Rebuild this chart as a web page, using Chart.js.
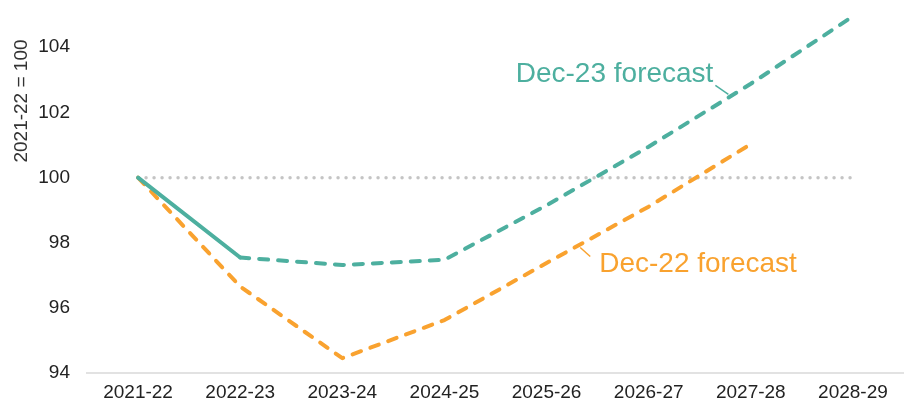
<!DOCTYPE html>
<html>
<head>
<meta charset="utf-8">
<script src="https://cdn.jsdelivr.net/npm/chart.js@4/dist/chart.umd.min.js"></script>
<style>
  html, body { margin: 0; padding: 0; background: #fff; overflow: hidden; }
  #wrap { width: 904px; height: 412px; position: relative; }
</style>
</head>
<body>
<div id="wrap"><canvas id="chart"></canvas></div>
<script>
// Data
const years = ['2021-22', '2022-23', '2023-24', '2024-25', '2025-26', '2026-27', '2027-28', '2028-29'];
const dec23 = [100, 97.55, 97.32, 97.48, 99.15, 100.95, 102.88, 104.95];
const dec22 = [100, 96.66, 94.46, 95.63, 97.38, 99.11, 101.03, null];
const baseline = [100, 100, 100, 100, 100, 100, 100, 100];
const yTicks = [94, 96, 98, 100, 102, 104];

const TEAL = '#4daf9f';
const ORANGE = '#f9a22f';
const FONT = "'Liberation Sans', Arial, Helvetica, sans-serif";

// point along a series between two categories, in pixels
function along(chart, series, i, t) {
  const x = chart.scales.x, y = chart.scales.y;
  const x0 = x.getPixelForValue(i), x1 = x.getPixelForValue(i + 1);
  const y0 = y.getPixelForValue(series[i]), y1 = y.getPixelForValue(series[i + 1]);
  return { x: x0 + (x1 - x0) * t, y: y0 + (y1 - y0) * t };
}

const labelsPlugin = {
  id: 'labels',
  afterDraw(chart) {
    const ctx = chart.ctx;
    ctx.save();

    // y axis title
    ctx.translate(22, 101);
    ctx.rotate(-Math.PI / 2);
    ctx.font = '19px ' + FONT;
    ctx.fillStyle = '#333';
    ctx.textAlign = 'center';
    ctx.textBaseline = 'middle';
    ctx.fillText('2021-22 = 100', 0, 0);
    ctx.setTransform(1, 0, 0, 1, 0, 0);

    ctx.lineWidth = 1.5;
    ctx.font = '28px ' + FONT;
    ctx.textBaseline = 'alphabetic';

    // Dec-23 label
    let a = along(chart, dec23, 5, 0.8);
    ctx.strokeStyle = TEAL;
    ctx.beginPath();
    ctx.moveTo(a.x - 15, a.y - 11);
    ctx.lineTo(a.x - 2, a.y - 2);
    ctx.stroke();
    ctx.fillStyle = TEAL;
    ctx.textAlign = 'right';
    ctx.fillText('Dec-23 forecast', a.x - 17, a.y - 14);

    // Dec-22 label
    a = along(chart, dec22, 4, 0.31);
    ctx.strokeStyle = ORANGE;
    ctx.beginPath();
    ctx.moveTo(a.x + 2, a.y + 2);
    ctx.lineTo(a.x + 12, a.y + 11);
    ctx.stroke();
    ctx.fillStyle = ORANGE;
    ctx.textAlign = 'left';
    ctx.fillText('Dec-22 forecast', a.x + 21, a.y + 26);

    ctx.restore();
  }
};

new Chart(document.getElementById('chart'), {
  type: 'line',
  data: {
    labels: years,
    datasets: [
      {
        label: 'Baseline',
        data: baseline,
        borderColor: '#c4c4c4',
        borderWidth: 3.5,
        borderDash: [0, 8],
        borderCapStyle: 'round',
        pointRadius: 0,
        order: 3
      },
      {
        label: 'Dec-22 forecast',
        data: dec22,
        borderColor: ORANGE,
        borderWidth: 4,
        borderDash: [9, 10],
        borderCapStyle: 'round',
        borderJoinStyle: 'round',
        pointRadius: 0,
        order: 2
      },
      {
        label: 'Dec-23 forecast',
        data: dec23,
        borderColor: TEAL,
        borderWidth: 4,
        borderDash: [9, 10],
        borderCapStyle: 'round',
        borderJoinStyle: 'round',
        pointRadius: 0,
        segment: {
          borderDash: c => c.p0DataIndex === 0 ? [] : [9, 10]
        },
        order: 1
      }
    ]
  },
  options: {
    responsive: true,
    maintainAspectRatio: false,
    animation: false,
    layout: { padding: { top: 0, right: 0, bottom: 0, left: 0 } },
    plugins: {
      legend: { display: false },
      tooltip: { enabled: false }
    },
    scales: {
      x: {
        offset: true,
        grid: { display: false, drawTicks: false },
        border: { display: true, color: '#e2e2e2', width: 2 },
        ticks: {
          color: '#222',
          font: { family: FONT, size: 19 },
          padding: 8,
          maxRotation: 0
        },
        afterFit(scale) {
          scale.paddingLeft = 0;
          scale.paddingRight = 0;
        }
      },
      y: {
        min: 94,
        max: 105.45,
        grid: { display: false, drawTicks: false },
        border: { display: false },
        ticks: {
          color: '#222',
          font: { family: FONT, size: 19 },
          padding: 17
        },
        afterBuildTicks(scale) {
          scale.ticks = yTicks.map(v => ({ value: v }));
        },
        afterFit(scale) {
          scale.width = 87;
          scale.paddingTop = 0;
          scale.paddingBottom = 0;
        }
      }
    }
  },
  plugins: [labelsPlugin]
});
</script>
</body>
</html>
